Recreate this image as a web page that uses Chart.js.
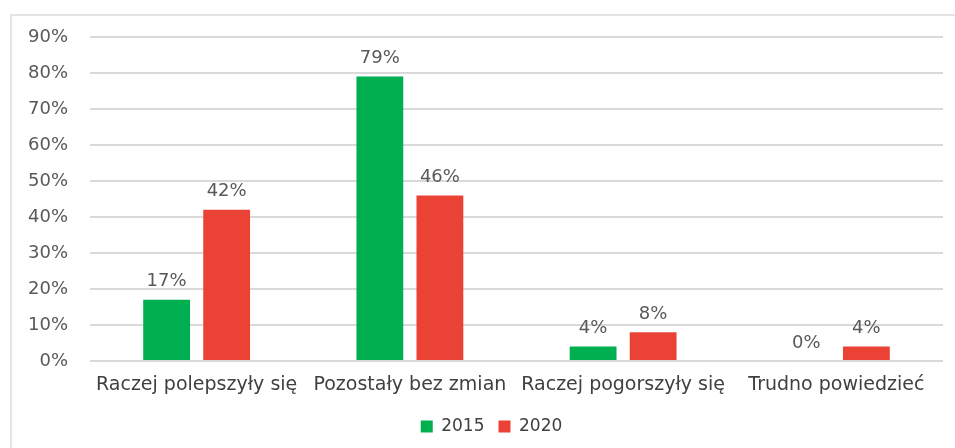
<!DOCTYPE html>
<html>
<head>
<meta charset="utf-8">
<script src="https://cdn.jsdelivr.net/npm/chart.js@4"></script>
<style>
  html, body { margin: 0; padding: 0; background: #fff; overflow: hidden; }
  #wrap { position: relative; width: 955px; height: 448px; }
  #frame { position: absolute; left: 10px; top: 14px; width: 960px; height: 460px;
           border: 2px solid #e4e4e4; box-sizing: border-box; }
  canvas { position: absolute; left: 0; top: 0; }
</style>
</head>
<body>
<div id="wrap">
  <div id="frame"></div>
  <canvas id="myChart" width="955" height="448"></canvas>
</div>
<script>
const categories = ["Raczej polepszyły się", "Pozostały bez zmian", "Raczej pogorszyły się", "Trudno powiedzieć"];
const values2015 = [17, 79, 4, 0];
const values2020 = [42, 46, 8, 4];
const yTicks = [0, 10, 20, 30, 40, 50, 60, 70, 80, 90];

const FONT = "'DejaVu Sans', sans-serif";

// labels over the bars
const barLabels = {
  id: "barLabels",
  afterDatasetsDraw(chart) {
    const c = chart.ctx;
    c.save();
    c.font = "18px " + FONT;
    c.fillStyle = "#595959";
    c.textAlign = "center";
    c.textBaseline = "bottom";
    chart.data.datasets.forEach((ds, i) => {
      chart.getDatasetMeta(i).data.forEach((bar, j) => {
        c.fillText(ds.data[j] + "%", bar.x, bar.y - 9);
      });
    });
    c.restore();
  },
};

// legend sits a bit right of the canvas centre
const shiftLegend = {
  id: "shiftLegend",
  afterLayout(chart) {
    chart.legend.left += 20;
    chart.legend.right += 20;
  },
};

new Chart(document.getElementById("myChart"), {
  type: "bar",
  data: {
    labels: categories,
    datasets: [
      { label: "2015", data: values2015, backgroundColor: "#00b050" },
      { label: "2020", data: values2020, backgroundColor: "#ea4335" },
    ],
  },
  options: {
    responsive: false,
    animation: false,
    categoryPercentage: 0.563,
    barPercentage: 0.78,
    layout: { padding: { left: 0, right: 12, top: 37, bottom: 3 } },
    plugins: {
      tooltip: { enabled: false },
      legend: {
        position: "bottom",
        labels: {
          font: { family: FONT, size: 17 },
          color: "#404040",
          boxWidth: 12,
          boxHeight: 12,
          padding: 14,
        },
      },
    },
    scales: {
      x: {
        afterFit: (scale) => { scale.height = 43; },
        grid: { display: false, drawTicks: false },
        border: { display: false },
        ticks: { font: { family: FONT, size: 19 }, color: "#404040", padding: 13 },
      },
      y: {
        min: 0,
        max: 90,
        afterFit: (scale) => { scale.width = 90; },
        afterBuildTicks: (scale) => { scale.ticks = yTicks.map((v) => ({ value: v })); },
        grid: { color: "#d9d9d9", lineWidth: 2, drawTicks: false },
        border: { display: false },
        ticks: {
          font: { family: FONT, size: 18 },
          color: "#595959",
          padding: 22,
          callback: (v) => v + "%",
        },
      },
    },
  },
  plugins: [barLabels, shiftLegend],
});
</script>
</body>
</html>
